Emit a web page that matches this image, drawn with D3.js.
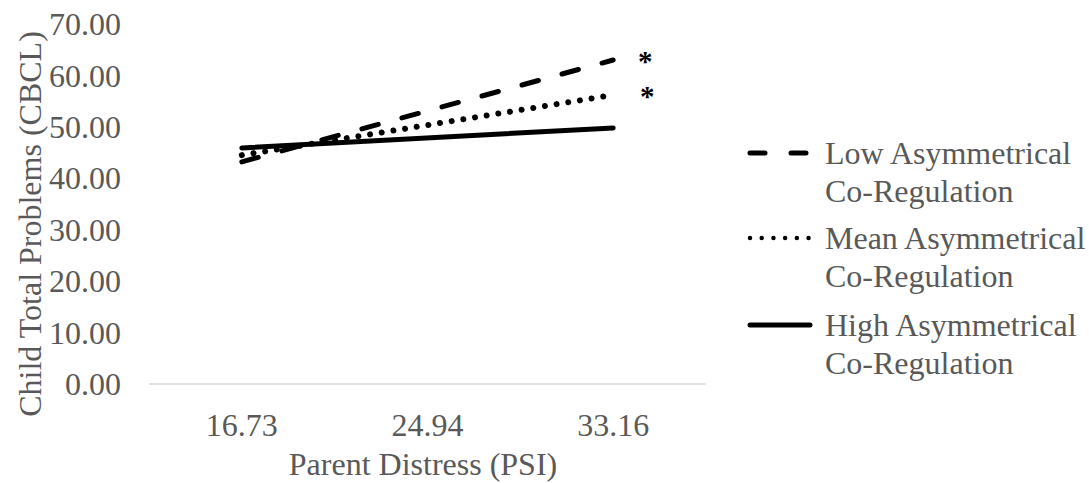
<!DOCTYPE html>
<html><head><meta charset="utf-8">
<script src="https://cdn.jsdelivr.net/npm/d3@7"></script>
<style>body{margin:0;background:#fff}svg{display:block}text{font-family:"Liberation Serif","Times New Roman",serif;fill:#595959}</style>
</head><body><svg id="c" width="1089" height="483"></svg>
<script>
const categories = ["16.73", "24.94", "33.16"];
const seriesNames = ["Low Asymmetrical Co-Regulation", "Mean Asymmetrical Co-Regulation", "High Asymmetrical Co-Regulation"];
const lowValues = [43.2, null, 63.0];
const meanValues = [44.5, null, 56.2];
const highValues = [45.9, null, 49.8];
const yTicks = [0, 10, 20, 30, 40, 50, 60, 70];
const significance = ["*", "*", ""];

const svg = d3.select("#c");
const x = d3.scaleBand().domain(categories).range([149, 706]);
const y = d3.scaleLinear().domain([0, 70]).range([384, 24]);
const fs = 32;

// axis
svg.append("line").attr("x1", 149).attr("x2", 706).attr("y1", y(0)).attr("y2", y(0))
  .attr("stroke", "#d9d9d9").attr("stroke-width", 1.3);

svg.append("g").selectAll("text").data(yTicks).join("text")
  .attr("x", 121).attr("y", d => y(d)).attr("dy", "0.35em").attr("text-anchor", "end")
  .attr("font-size", fs).text(d => d.toFixed(2));

svg.append("g").selectAll("text").data(categories).join("text")
  .attr("x", d => x(d) + x.bandwidth() / 2).attr("y", 425).attr("dy", "0.35em").attr("text-anchor", "middle")
  .attr("font-size", fs).text(d => d);

svg.append("text").attr("transform", "translate(30,224) rotate(-90)").attr("text-anchor", "middle")
  .attr("dy", "0.35em").attr("font-size", fs).text("Child Total Problems (CBCL)");
svg.append("text").attr("x", 423).attr("y", 464).attr("text-anchor", "middle")
  .attr("dy", "0.35em").attr("font-size", fs).text("Parent Distress (PSI)");

const styles = [
  {dash: "17,24.5", w: 5},
  {dash: "0.01,11.8", w: 6},
  {dash: null, w: 5}
];
const all = [lowValues, meanValues, highValues];
const line = d3.line().defined(d => d.v != null).x(d => x(d.c) + x.bandwidth() / 2).y(d => y(d.v));
all.forEach((vals, i) => {
  const pts = categories.map((c, j) => ({c, v: vals[j]})).filter(d => d.v != null);
  const p = svg.append("path").datum(pts).attr("d", line).attr("fill", "none")
    .attr("stroke", "#000").attr("stroke-width", styles[i].w).attr("stroke-linecap", "round");
  if (styles[i].dash) p.attr("stroke-dasharray", styles[i].dash);
  if (significance[i]) {
    svg.append("text").attr("x", x(categories[2]) + x.bandwidth() / 2 + 32 + i * 2)
      .attr("y", y(vals[2]) + 11).attr("text-anchor", "middle")
      .attr("font-size", 29).style("fill", "#000").style("font-weight", "bold").text(significance[i]);
  }
});

// legend
const legY = [153, 238, 325];
const legendDash = ["15,26", "0.01,11.7", null];
seriesNames.forEach((name, i) => {
  const ly = legY[i];
  const l = svg.append("line").attr("x1", 750).attr("x2", 810).attr("y1", ly).attr("y2", ly)
    .attr("stroke", "#000").attr("stroke-width", i === 1 ? 4.5 : 5).attr("stroke-linecap", "round");
  if (legendDash[i]) l.attr("stroke-dasharray", legendDash[i]);
  const words = name.split(" ");
  const t = svg.append("text").attr("x", 825).attr("y", ly).attr("font-size", fs);
  t.append("tspan").attr("x", 825).attr("dy", "0.35em").text(words[0] + " " + words[1]);
  t.append("tspan").attr("x", 825).attr("dy", "1.17em").text(words[2]);
});
</script></body></html>
